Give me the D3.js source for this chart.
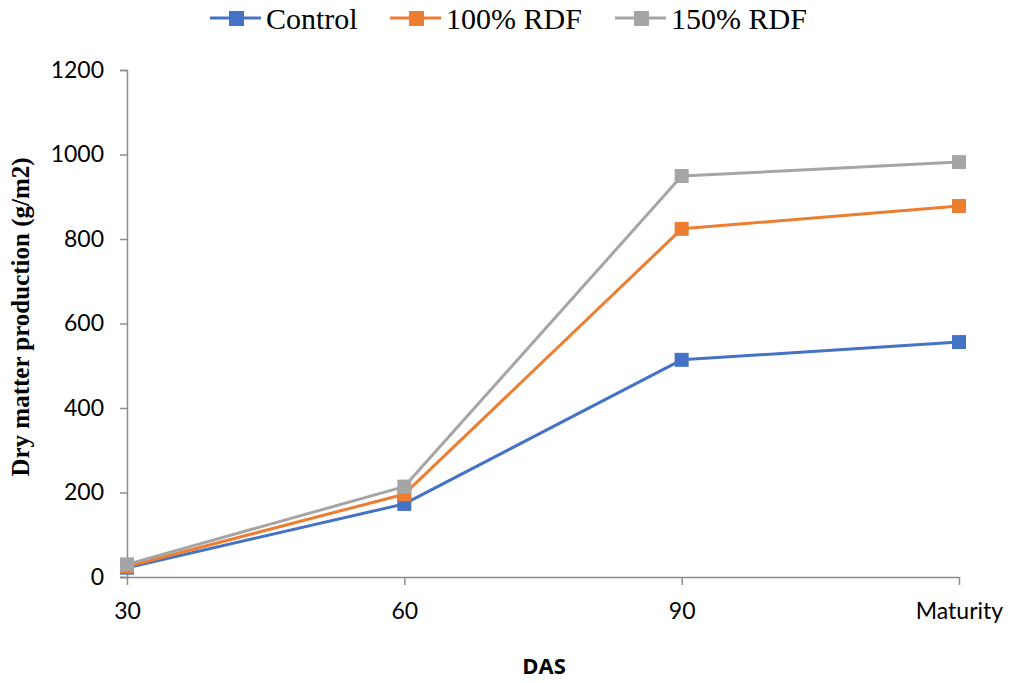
<!DOCTYPE html>
<html><head><meta charset="utf-8">
<script src="https://cdn.jsdelivr.net/npm/d3@7"></script>
<style>body{margin:0;background:#fff}svg{display:block}</style>
</head><body>
<script>
const categories = ["30", "60", "90", "Maturity"];
const seriesNames = ["Control", "100% RDF", "150% RDF"];
const control = [22, 173, 514, 556];
const rdf100 = [25, 196, 824, 878];
const rdf150 = [30, 214, 949, 982];
const yTicks = [0, 200, 400, 600, 800, 1000, 1200];
const colors = ["#4472C4", "#ED7D31", "#A5A5A5"];

const W = 1010, H = 683;
const svg = d3.select("body").append("svg").attr("width", W).attr("height", H);
const x = d3.scalePoint().domain(categories).range([127, 959]).padding(0);
const y = d3.scaleLinear().domain([0, 1200]).range([577, 70]);
const axisColor = "#8c8c8c";
const tickFont = "Lato, 'Open Sans', sans-serif";

// y axis
const ya = svg.append("g").attr("transform", "translate(127,0)")
  .call(d3.axisLeft(y).tickValues(yTicks).tickSize(7).tickPadding(16).tickFormat(d3.format("d")));
ya.select(".domain").attr("stroke", axisColor).attr("stroke-width", 1.5);
ya.selectAll(".tick line").attr("stroke", axisColor).attr("stroke-width", 1.5);
ya.selectAll("text").attr("font-family", tickFont).attr("font-size", 23).attr("fill", "#000");

// x axis
const xa = svg.append("g").attr("transform", "translate(0,577)")
  .call(d3.axisBottom(x).tickSize(8).tickPadding(18));
xa.select(".domain").attr("stroke", axisColor).attr("stroke-width", 1.5).attr("d", "M120,0.5H959");
xa.selectAll(".tick line").attr("stroke", axisColor).attr("stroke-width", 1.5);
xa.selectAll("text").attr("font-family", tickFont).attr("font-size", 23).attr("fill", "#000");

// titles
svg.append("text").attr("transform", "translate(29,317) rotate(-90)").attr("text-anchor", "middle")
  .attr("font-family", "'Liberation Serif', 'Times New Roman', serif").attr("font-weight", "bold").attr("font-size", 25)
  .text("Dry matter production (g/m2)");
svg.append("text").attr("x", 544).attr("y", 674).attr("text-anchor", "middle")
  .attr("font-family", "'Open Sans', sans-serif").attr("font-weight", "bold").attr("font-size", 22)
  .text("DAS");

const allSeries = [control, rdf100, rdf150];
const line = d3.line().x((d, i) => x(categories[i])).y(d => y(d));
allSeries.forEach((s, k) => {
  svg.append("path").datum(s).attr("d", line).attr("fill", "none")
    .attr("stroke", colors[k]).attr("stroke-width", 3).attr("stroke-linejoin", "round");
});
allSeries.forEach((s, k) => {
  svg.append("g").selectAll("rect").data(s).join("rect")
    .attr("x", (d, i) => x(categories[i]) - 7).attr("y", d => y(d) - 7)
    .attr("width", 14).attr("height", 14).attr("fill", colors[k]);
});

// legend
const legX = [210, 390, 615];
seriesNames.forEach((n, k) => {
  const g = svg.append("g").attr("transform", `translate(${legX[k]},18)`);
  g.append("line").attr("x1", 0).attr("x2", 51).attr("stroke", colors[k]).attr("stroke-width", 3);
  g.append("rect").attr("x", 19).attr("y", -7).attr("width", 15).attr("height", 15).attr("fill", colors[k]);
  g.append("text").attr("x", 56).attr("y", 11).attr("font-family", "'Liberation Serif', 'Times New Roman', serif")
    .attr("font-size", 30).text(n);
});
</script>
</body></html>
